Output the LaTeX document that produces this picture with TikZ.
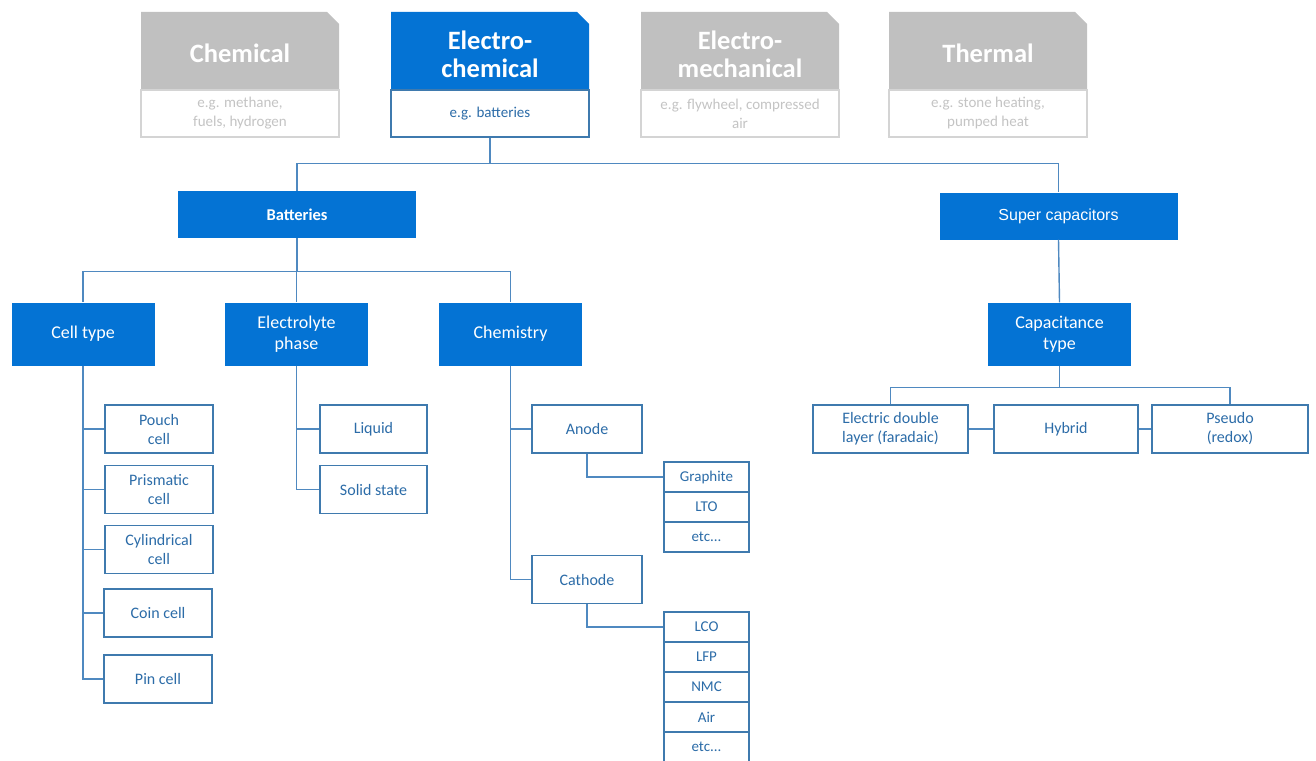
\documentclass[tikz,border=0pt]{standalone}
\usepackage{fontspec}
\setmainfont{Carlito}
\newfontfamily\arialfont{Liberation Sans}
\definecolor{mainblue}{HTML}{0473D4}
\definecolor{lineblue}{HTML}{4F89C0}
\definecolor{boxblue}{HTML}{3F7AAE}
\definecolor{textblue}{HTML}{2C6CA8}
\definecolor{grayhead}{HTML}{C0C0C0}
\definecolor{graytext}{HTML}{C4C4C4}
\definecolor{grayline}{HTML}{D4D4D4}

\begin{document}
\begin{tikzpicture}[x=1pt,y=-1pt,
  conn/.style={draw=lineblue,line width=1.4pt},
  headtext/.style={text=white,align=center,inner sep=0pt,font=\fontsize{26.5}{28}\selectfont\bfseries},
  subbox/.style={draw=grayline,line width=1.2pt,fill=white,text=graytext,align=center,inner sep=0pt,
    minimum width=198,minimum height=47,font=\fontsize{15}{19}\selectfont},
  topbox/.style={fill=mainblue,text=white,inner sep=0pt,minimum width=238,minimum height=47},
  midbox/.style={fill=mainblue,text=white,align=center,inner sep=0pt,minimum width=143,minimum height=63,
    font=\fontsize{18}{21}\selectfont},
  leafbox/.style={draw=boxblue,line width=1.2pt,fill=white,text=textblue,align=center,inner sep=0pt,
    minimum height=48,font=\fontsize{16}{19}\selectfont},
  listbox/.style={draw=boxblue,line width=1.2pt,fill=white,text=textblue,inner sep=0pt,
    minimum width=85,minimum height=30,font=\fontsize{15}{17}\selectfont}]
\useasboundingbox (0,0) rectangle (1316,760);
\def\c{12}
% storage families
\fill[grayhead] (141,12) -- (339-\c,12) -- (339,12+\c) -- (339,90) -- (141,90) -- cycle;
\fill[mainblue] (391,12) -- (589-\c,12) -- (589,12+\c) -- (589,90) -- (391,90) -- cycle;
\fill[grayhead] (641,12) -- (839-\c,12) -- (839,12+\c) -- (839,90) -- (641,90) -- cycle;
\fill[grayhead] (889,12) -- (1087-\c,12) -- (1087,12+\c) -- (1087,90) -- (889,90) -- cycle;
\node [headtext, name=chem]    at (240,53) {Chemical};
\node [headtext, name=ec]      at (490,54) {Electro-\\chemical};
\node [headtext, name=em]      at (740,54) {Electro-\\mechanical};
\node [headtext, name=therm]   at (988,53) {Thermal};
\node [subbox, name=chemsub]   at (240,113.5) {e.g. methane,\\fuels, hydrogen};
\node [subbox, draw=boxblue, text=textblue, name=ecsub] at (490,113.5) {e.g. batteries};
\node [subbox, name=emsub]     at (740,113.5) {e.g. flywheel, compressed\\air};
\node [subbox, name=thermsub]  at (988,113.5) {e.g. stone heating,\\pumped heat};
%\node [subbox] at (1238,113.5) {};
\node [topbox, font=\fontsize{16.5}{19}\selectfont\bfseries, name=bat] at (297,214.5) {Batteries};
\node [topbox, font=\fontsize{16}{19}\arialfont, name=super] at (1058.5,216) {Super capacitors};
\node [midbox, name=celltype]  at (83,334) {Cell type};
\node [midbox, name=elec]      at (296.5,334) {Electrolyte\\phase};
\node [midbox, name=chemy]     at (510.5,334) {Chemistry};
\node [midbox, name=cap]       at (1059.5,334) {Capacitance\\type};
\node [leafbox, minimum width=108, name=pouch]  at (159,429) {Pouch\\cell};
\node [leafbox, minimum width=108, name=prism]  at (159,489.5) {Prismatic\\cell};
\node [leafbox, minimum width=108, name=cyl]    at (159,549.5) {Cylindrical\\cell};
\node [leafbox, minimum width=108, name=coin]   at (158,613) {Coin cell};
\node [leafbox, minimum width=108, name=pin]    at (158,679) {Pin cell};
\node [leafbox, minimum width=107, name=liquid] at (373.5,429) {Liquid};
\node [leafbox, minimum width=107, name=solid]  at (373.5,489.5) {Solid state};
\node [leafbox, minimum width=110, name=anode]  at (587,429) {Anode};
\node [leafbox, minimum width=110, name=cathode] at (587,579.5) {Cathode};
\node [listbox, name=graph] at (706.5,477) {Graphite};
\node [listbox, name=lto]   at (706.5,507) {LTO};
\node [listbox, name=aetc]  at (706.5,537) {etc...};
\node [listbox, name=lco]   at (706.5,627) {LCO};
\node [listbox, name=lfp]   at (706.5,657) {LFP};
\node [listbox, name=nmc]   at (706.5,687) {NMC};
\node [listbox, name=air]   at (706.5,717) {Air};
\node [listbox, name=cetc]  at (706.5,747) {etc...};
\node [leafbox, minimum width=155, name=edl]    at (890.5,429) {Electric double\\layer (faradaic)};
\node [leafbox, minimum width=144, name=hybrid] at (1066,429) {Hybrid};
\node [leafbox, minimum width=156, name=pseudo] at (1230,429) {Pseudo\\(redox)};
\draw [conn] (ecsub.south) -- ++(0,26) -| (bat.north);
\draw [conn] (ecsub.south) -- ++(0,26) -| (super.north);
\draw [conn] (bat.south) -- ++(0,33) -| (celltype.north);
\draw [conn] (bat.south) -- ++(0,33) -| (elec.north);
\draw [conn] (bat.south) -- ++(0,33) -| (chemy.north);
\draw [conn] (super.south) -- (cap.north);
\draw [conn] (celltype.south) |- (pouch.west);
\draw [conn] (celltype.south) |- (prism.west);
\draw [conn] (celltype.south) |- (cyl.west);
\draw [conn] (celltype.south) |- (coin.west);
\draw [conn] (celltype.south) |- (pin.west);
\draw [conn] (elec.south) |- (liquid.west);
\draw [conn] (elec.south) |- (solid.west);
\draw [conn] (chemy.south) |- (anode.west);
\draw [conn] (chemy.south) |- (cathode.west);
\draw [conn] (anode.south) |- (graph.west);
\draw [conn] (cathode.south) |- (lco.west);
\draw [conn] (cap.south) -- ++(0,22) -| (edl.north);
\draw [conn] (cap.south) -- ++(0,22) -| (pseudo.north);
\draw [conn] (edl) -- (hybrid);
\draw [conn] (hybrid) -- (pseudo);
\end{tikzpicture}
\end{document}
